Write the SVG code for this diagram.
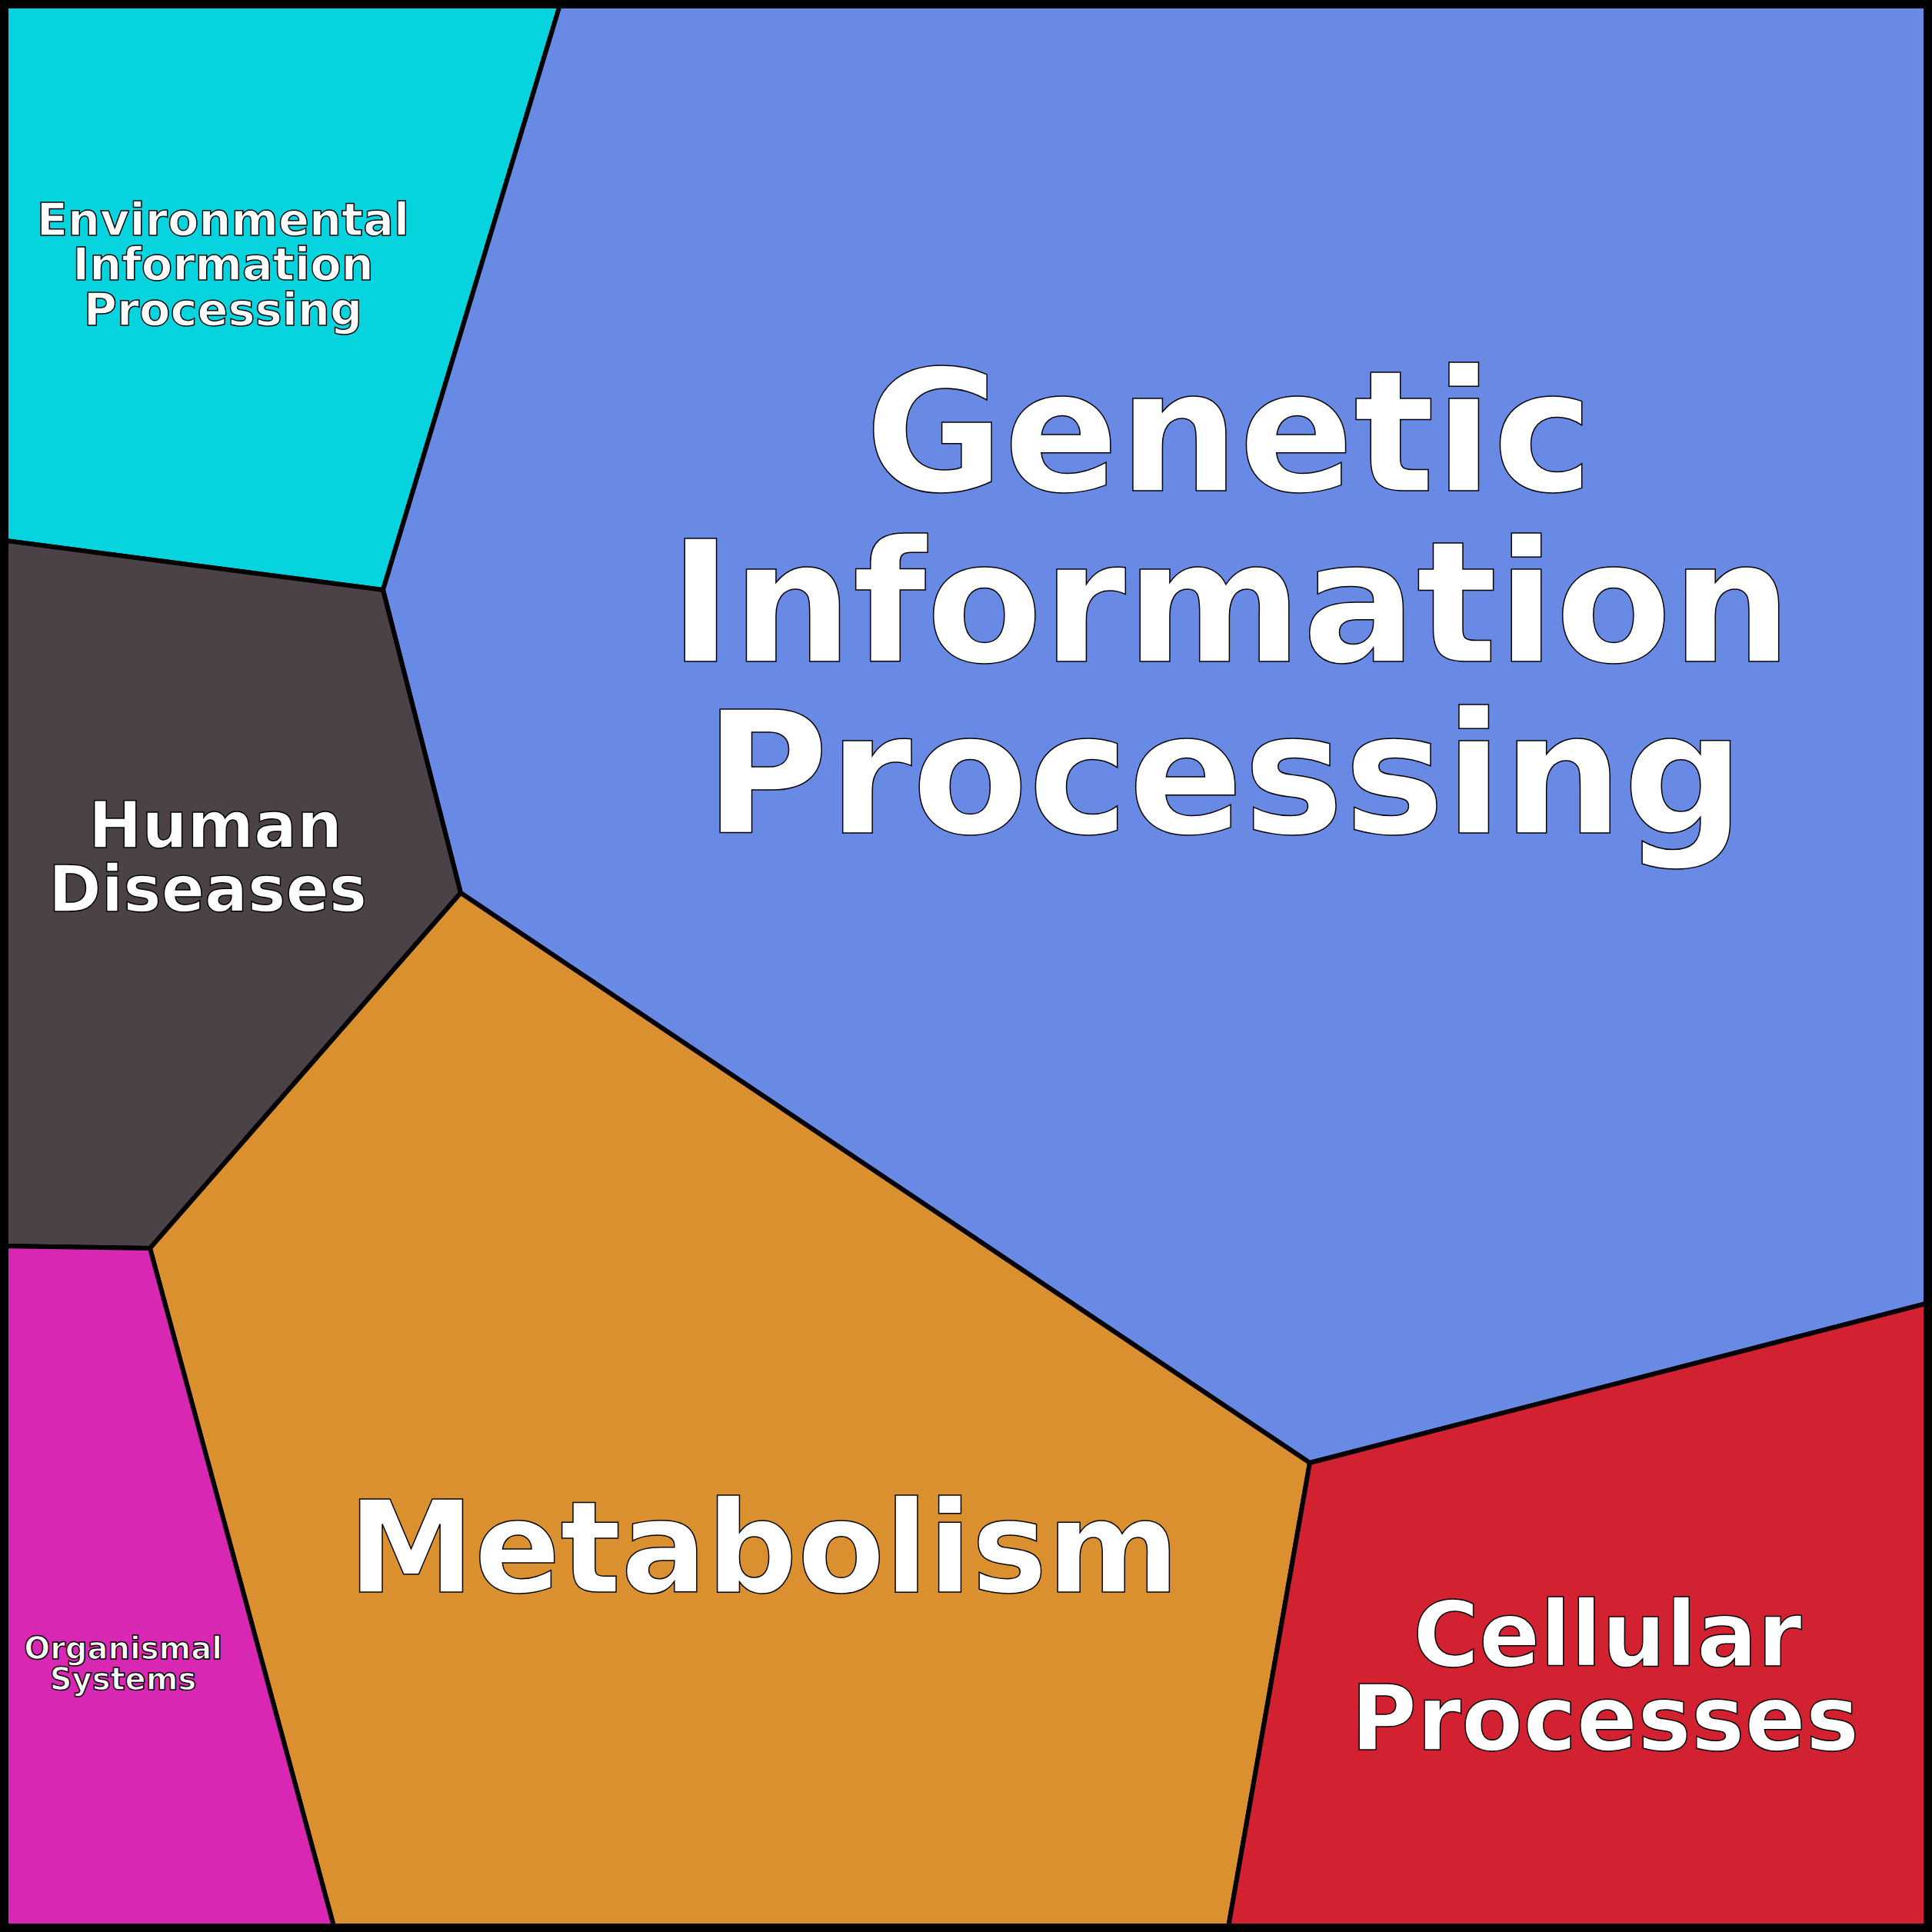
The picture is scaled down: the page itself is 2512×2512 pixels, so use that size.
<svg xmlns="http://www.w3.org/2000/svg" width="2512" height="2512" viewBox="0 0 2512 2512">
<style>
.c{stroke:#000;stroke-width:6;stroke-linejoin:round}
.t{font-family:"DejaVu Sans",sans-serif;font-weight:bold;fill:#fff;stroke:#000;stroke-width:1.5;text-anchor:middle}
</style>
<g id="env"><polygon class="c" fill="#05d4df" points="0,0 730,0 498,767 0,702"/>
<text class="t" font-size="59"><tspan x="290" y="306">Environmental</tspan><tspan x="290" y="364">Information</tspan><tspan x="290" y="423">Processing</tspan></text></g>
<g id="genetic"><polygon class="c" fill="#6889e4" points="730,0 2512,0 2512,1693 1703,1902 599,1161 498,767"/>
<text class="t" font-size="220"><tspan x="1598" y="638">Genetic</tspan><tspan x="1600" y="860">Information</tspan><tspan x="1592" y="1083">Processing</tspan></text></g>
<g id="human"><polygon class="c" fill="#4b4247" points="0,702 498,767 599,1161 195,1623 0,1620"/>
<text class="t" font-size="83"><tspan x="280" y="1102">Human</tspan><tspan x="270" y="1185">Diseases</tspan></text></g>
<g id="metabolism"><polygon class="c" fill="#db902f" points="195,1623 599,1161 1703,1902 1596,2512 436,2512"/>
<text class="t" font-size="165" x="993" y="2070">Metabolism</text></g>
<g id="organismal"><polygon class="c" fill="#d828b3" points="0,1620 195,1623 436,2512 0,2512"/>
<text class="t" font-size="40" stroke-width="1"><tspan x="160" y="2157">Organismal</tspan><tspan x="160" y="2197">Systems</tspan></text></g>
<g id="cellular"><polygon class="c" fill="#d22231" points="1703,1902 2512,1693 2512,2512 1596,2512"/>
<text class="t" font-size="117"><tspan x="2090" y="2166">Cellular</tspan><tspan x="2087" y="2275">Processes</tspan></text></g>
<g id="connectors"/>
<rect x="5" y="5" width="2502" height="2502" fill="none" stroke="#000" stroke-width="12"/>
</svg>
